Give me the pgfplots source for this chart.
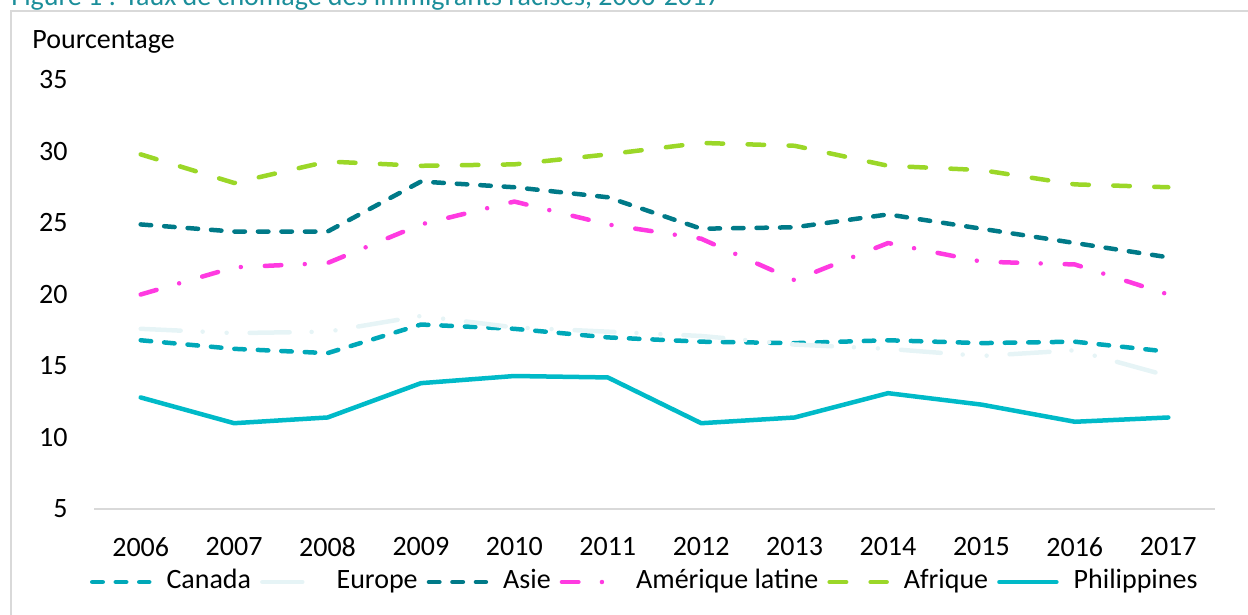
\documentclass[border=0pt]{standalone}
\usepackage{fontspec}
\setmainfont{Carlito}
\usepackage{pgfplots}
\pgfplotsset{compat=1.18}
\definecolor{canadac}{RGB}{0,168,184}
\definecolor{europec}{RGB}{230,244,246}
\definecolor{asiec}{RGB}{0,122,136}
\definecolor{amlatc}{RGB}{255,58,225}
\definecolor{afriquec}{RGB}{155,215,40}
\definecolor{philc}{RGB}{0,186,200}
\definecolor{titlec}{RGB}{27,142,154}
\definecolor{framec}{RGB}{217,217,217}
\begin{document}
\begin{tikzpicture}[font=\fontsize{14bp}{16.8bp}\selectfont]
\path[use as bounding box] (0bp,0bp) rectangle (624bp,307.5bp);
\begin{scope}
\clip (0bp,0bp) rectangle (624bp,307.5bp);
\node[anchor=base west, inner sep=0pt, text=titlec] at (5.5bp,304.5bp) {Figure 1 : Taux de chômage des immigrants racisés, 2006-2017};
\end{scope}
\draw[framec, line width=0.7bp] (5.5bp,0bp) -- (5.5bp,302bp) -- (624bp,302bp);
\node[anchor=base west, inner sep=0pt] at (16bp,283bp) {Pourcentage};
\begin{axis}[
  scale only axis, width=560.5bp, height=214.5bp,
  at={(47bp,53bp)}, anchor=south west,
  xmin=2005.5, xmax=2017.5, ymin=5, ymax=35,
  xtick={2006,2007,...,2017}, ytick={5,10,...,35},
  /pgf/number format/assume math mode=true,
  x tick label style={/pgf/number format/1000 sep={}, anchor=north, inner sep=0pt, yshift=-14bp},
  y tick label style={anchor=east, inner sep=0pt, xshift=-13bp},
  axis lines=left, axis line style={-},
  y axis line style={draw=none},
  x axis line style={draw=framec, line width=0.75bp},
  major tick length=0pt,
  tick style={draw=none},
  clip=false,
  every axis plot/.append style={line width=2.25bp, line cap=round, line join=round},
  legend columns=6,
  legend cell align=left,
  legend image code/.code={\draw[#1] (0bp,0bp) -- (28.5bp,0bp);},
  legend style={at={(-0.00357,-0.1702)}, anchor=west, draw=none, fill=none, inner sep=0pt, outer sep=0pt,
    nodes={inner sep=0pt, text height=0.9em, text depth=0.25em},
    /tikz/every odd column/.append style={column sep=7.5bp},
    /tikz/every even column/.append style={column sep=4.5bp}},
]
\addplot[canadac, dash pattern=on 5.25bp off 6.5bp] coordinates {
(2006,16.8) (2007,16.2) (2008,15.9) (2009,17.9) (2010,17.6) (2011,17.0)
(2012,16.7) (2013,16.6) (2014,16.8) (2015,16.6) (2016,16.7) (2017,16.0)};
\addlegendentry{Canada}
\addplot[europec, dash pattern=on 20bp off 11bp on 0bp off 12bp on 0bp off 11.5bp] coordinates {
(2006,17.6) (2007,17.3) (2008,17.4) (2009,18.5) (2010,17.7) (2011,17.4)
(2012,17.1) (2013,16.5) (2014,16.2) (2015,15.7) (2016,16.1) (2017,14.3)};
\addlegendentry{Europe}
\addplot[asiec, dash pattern=on 5.25bp off 6.5bp] coordinates {
(2006,24.9) (2007,24.4) (2008,24.4) (2009,27.9) (2010,27.5) (2011,26.8)
(2012,24.6) (2013,24.7) (2014,25.6) (2015,24.6) (2016,23.6) (2017,22.6)};
\addlegendentry{Asie}
\addplot[amlatc, dash pattern=on 8.25bp off 11.75bp on 0bp off 12bp] coordinates {
(2006,20.0) (2007,21.9) (2008,22.2) (2009,24.9) (2010,26.5) (2011,24.9)
(2012,23.9) (2013,21.0) (2014,23.6) (2015,22.3) (2016,22.1) (2017,20.0)};
\addlegendentry{Amérique latine}
\addplot[afriquec, dash pattern=on 8.25bp off 12.25bp] coordinates {
(2006,29.8) (2007,27.8) (2008,29.3) (2009,29.0) (2010,29.1) (2011,29.8)
(2012,30.6) (2013,30.4) (2014,29.0) (2015,28.7) (2016,27.7) (2017,27.5)};
\addlegendentry{Afrique}
\addplot[philc, solid] coordinates {
(2006,12.8) (2007,11.0) (2008,11.4) (2009,13.8) (2010,14.3) (2011,14.2)
(2012,11.0) (2013,11.4) (2014,13.1) (2015,12.3) (2016,11.1) (2017,11.4)};
\addlegendentry{Philippines}
\end{axis}
\end{tikzpicture}
\end{document}
